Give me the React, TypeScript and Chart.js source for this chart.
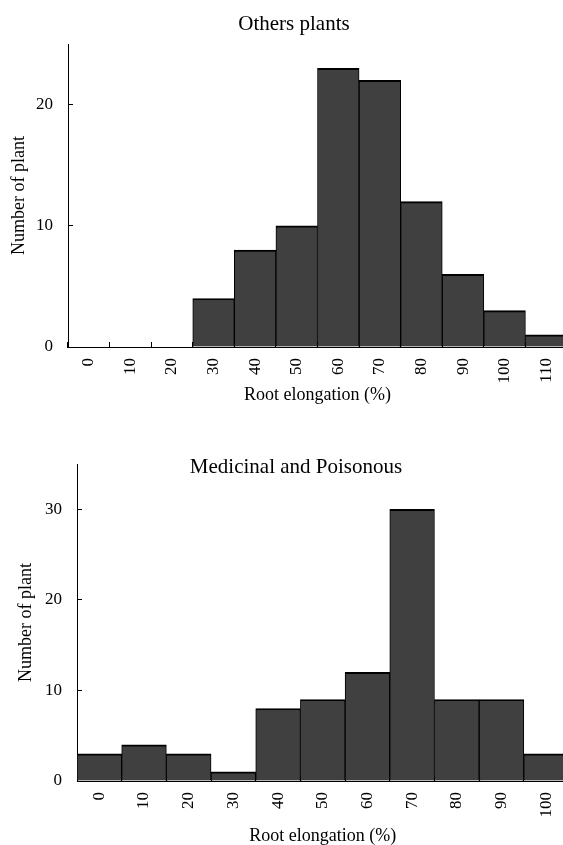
import React, { useEffect, useRef } from 'react';
import { Chart, registerables } from 'chart.js';

Chart.register(...registerables);

// ---- data ----
const othersBins = ['0', '10', '20', '30', '40', '50', '60', '70', '80', '90', '100', '110'];
const othersCounts = [0, 0, 0, 4, 8, 10, 23, 22, 12, 6, 3, 1];
const othersYMax = 25;

const medicinalBins = ['0', '10', '20', '30', '40', '50', '60', '70', '80', '90', '100'];
const medicinalCounts = [3, 4, 3, 1, 8, 9, 12, 30, 9, 9, 3];
const medicinalYMax = 35;

const yStep = 10;
const othersTitle = 'Others plants';
const medicinalTitle = 'Medicinal and Poisonous';
const xAxisTitle = 'Root elongation (%)';
const yAxisTitle = 'Number of plant';

// ---- style ----
const FONT = "'Liberation Serif', 'Times New Roman', Times, serif";
const INK = '#000';
const BAR_FILL = '#404040';

const panelTitle = {
  id: 'panelTitle',
  afterDraw(chart: any, _args: any, opts: any) {
    if (!opts || !opts.text) return;
    const ctx = chart.ctx;
    ctx.save();
    ctx.font = `${opts.size}px ${FONT}`;
    ctx.fillStyle = INK;
    ctx.textAlign = 'center';
    ctx.textBaseline = 'alphabetic';
    ctx.fillText(opts.text, opts.x, opts.y);
    ctx.restore();
  },
};

type HistProps = {
  labels: string[];
  counts: number[];
  yMax: number;
  title: string;
  titleX: number;
  titleY: number;
  width: number;
  height: number;
  top: number;
  areaLeft: number;
  areaTop: number;
  areaRight: number;
  areaBottom: number;
  yTitlePad: number;
  xTitlePad: number;
};

function Histogram(p: HistProps) {
  const ref = useRef<HTMLCanvasElement | null>(null);
  useEffect(() => {
    if (!ref.current) return;
    const chart = new Chart(ref.current, {
      type: 'bar',
      data: {
        labels: p.labels,
        datasets: [
          {
            data: p.counts,
            backgroundColor: BAR_FILL,
            borderColor: INK,
            borderWidth: { top: 2, left: 1, right: 1, bottom: 0 },
            borderSkipped: 'start',
            barPercentage: 1,
            categoryPercentage: 1,
          },
        ],
      },
      plugins: [panelTitle],
      options: {
        responsive: false,
        animation: false,
        devicePixelRatio: 1,
        layout: {
          padding: { top: p.areaTop, right: p.width - p.areaRight, left: 0, bottom: 0 },
        },
        plugins: {
          legend: { display: false },
          tooltip: { enabled: false },
          title: { display: false },
          panelTitle: { text: p.title, x: p.titleX, y: p.titleY, size: 21 },
        } as any,
        scales: {
          x: {
            type: 'category',
            offset: true,
            ticks: {
              minRotation: 90,
              maxRotation: 90,
              autoSkip: false,
              padding: 16,
              color: INK,
              font: { family: FONT, size: 17 },
            },
            grid: {
              offset: true,
              drawOnChartArea: false,
              drawTicks: true,
              tickLength: -5,
              color: INK,
              lineWidth: 1,
            },
            border: { display: true, color: INK, width: 1 },
            title: {
              display: true,
              text: xAxisTitle,
              color: INK,
              font: { family: FONT, size: 18 },
              padding: { top: 0, bottom: p.xTitlePad },
            },
            afterFit: (s: any) => {
              s.height = p.height - p.areaBottom;
              s.paddingLeft = 0;
              s.paddingRight = 0;
            },
          },
          y: {
            type: 'linear',
            min: 0,
            max: p.yMax,
            bounds: 'data',
            ticks: {
              stepSize: yStep,
              padding: 20,
              color: INK,
              font: { family: FONT, size: 17 },
            },
            afterBuildTicks: (s: any) => {
              s.ticks = s.ticks.filter((t: any) => t.value % yStep === 0);
            },
            grid: {
              drawOnChartArea: false,
              drawTicks: true,
              tickLength: -5,
              color: INK,
              lineWidth: 1,
            },
            border: { display: true, color: INK, width: 1 },
            title: {
              display: true,
              text: yAxisTitle,
              color: INK,
              font: { family: FONT, size: 18 },
              padding: { top: p.yTitlePad, bottom: 0 },
            },
            afterFit: (s: any) => {
              s.width = p.areaLeft;
              s.paddingTop = 0;
              s.paddingBottom = 0;
            },
          },
        },
      } as any,
    });
    return () => chart.destroy();
  }, []);
  return (
    <canvas
      ref={ref}
      width={p.width}
      height={p.height}
      style={{ position: 'absolute', left: 0, top: p.top, width: p.width, height: p.height, display: 'block' }}
    />
  );
}

export default function App() {
  return (
    <div
      style={{
        position: 'fixed',
        left: 0,
        top: 0,
        width: 563,
        height: 845,
        overflow: 'hidden',
        background: '#fff',
      }}
    >
      <Histogram
        labels={othersBins}
        counts={othersCounts}
        yMax={othersYMax}
        title={othersTitle}
        titleX={294}
        titleY={30}
        width={575}
        height={415}
        top={0}
        areaLeft={68}
        areaTop={44}
        areaRight={567}
        areaBottom={347}
        yTitlePad={8}
        xTitlePad={9}
      />
      <Histogram
        labels={medicinalBins}
        counts={medicinalCounts}
        yMax={medicinalYMax}
        title={medicinalTitle}
        titleX={296}
        titleY={58}
        width={575}
        height={440}
        top={415}
        areaLeft={77}
        areaTop={49}
        areaRight={568.5}
        areaBottom={366}
        yTitlePad={15}
        xTitlePad={8}
      />
    </div>
  );
}
